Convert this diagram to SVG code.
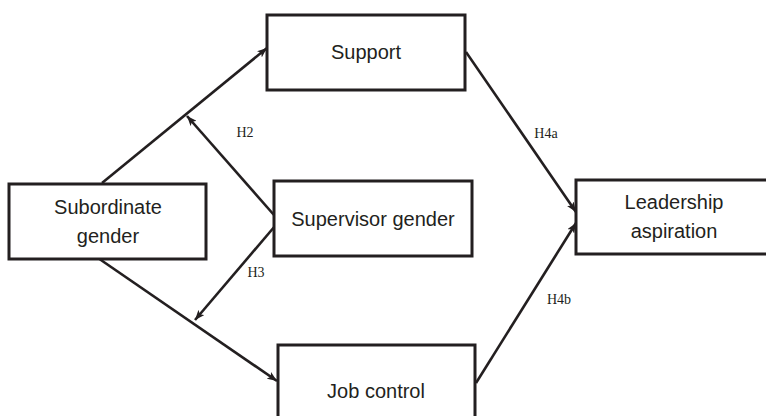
<svg xmlns="http://www.w3.org/2000/svg" width="766" height="416" viewBox="0 0 766 416">
<style>
.box{fill:#fff;stroke:#231f20;stroke-width:3}
.lbl{font-family:"Liberation Sans",Arial,sans-serif;font-size:20px;fill:#231f20;text-anchor:middle}
.h{font-family:"Liberation Serif","Times New Roman",serif;font-size:14px;fill:#231f20;text-anchor:middle}
.c{stroke:#231f20;stroke-width:2.6;fill:none;marker-end:url(#ah)}
</style>
<defs>
<marker id="ah" viewBox="0 0 10 8" refX="10" refY="4" markerWidth="10" markerHeight="8" markerUnits="userSpaceOnUse" orient="auto">
<path d="M0,0 L10,4 L0,8 L2.5,4 Z" fill="#231f20"/>
</marker>
</defs>
<rect width="766" height="416" fill="#fff"/>
<g id="connectors">
<line class="c" x1="102" y1="183" x2="267" y2="48"/>
<line class="c" x1="274" y1="215" x2="187" y2="116"/>
<line class="c" x1="275" y1="226" x2="195" y2="320"/>
<line class="c" x1="98" y1="258" x2="277" y2="381"/>
<line class="c" x1="466" y1="52" x2="576" y2="212"/>
<line class="c" x1="476" y1="383" x2="576" y2="223"/>
<text class="h" x="245" y="137">H2</text>
<text class="h" x="256" y="277">H3</text>
<text class="h" x="546" y="138">H4a</text>
<text class="h" x="559" y="304">H4b</text>
</g>
<g id="support">
<rect class="box" x="267" y="15" width="198" height="75"/>
<text class="lbl" x="366" y="59">Support</text>
</g>
<g id="subordinate">
<rect class="box" x="9" y="184" width="197" height="75"/>
<text class="lbl" x="108" y="214">Subordinate</text>
<text class="lbl" x="108" y="243">gender</text>
</g>
<g id="supervisor">
<rect class="box" x="274" y="181" width="198" height="75"/>
<text class="lbl" x="373" y="226">Supervisor gender</text>
</g>
<g id="leadership">
<rect class="box" x="576" y="180" width="196" height="74"/>
<text class="lbl" x="674" y="209">Leadership</text>
<text class="lbl" x="674" y="238">aspiration</text>
</g>
<g id="jobcontrol">
<rect class="box" x="278" y="345" width="197" height="91"/>
<text class="lbl" x="376" y="398">Job control</text>
</g>
</svg>
